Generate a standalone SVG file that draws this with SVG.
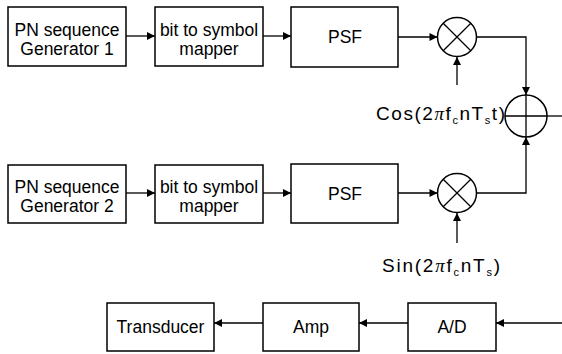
<svg xmlns="http://www.w3.org/2000/svg" width="562" height="354" viewBox="0 0 562 354">
<defs>
<marker id="ah" viewBox="0 0 10 10" refX="10" refY="5" markerWidth="10" markerHeight="8" markerUnits="userSpaceOnUse" orient="auto">
<path d="M0,0 L10,5 L0,10 z" fill="#000"/>
</marker>
</defs>
<style>
.box{fill:#fff;stroke:#000;stroke-width:1.5}
.circ{fill:#fff;stroke:#000;stroke-width:1.5}
.t{font-family:"Liberation Sans",Arial,sans-serif;font-size:17.5px;fill:#000;text-anchor:middle}
.lbl{font-family:"Liberation Sans",Arial,sans-serif;font-size:19px;fill:#000}
.sub{font-size:11px}
.c{fill:none;stroke:#000;stroke-width:1.3}
.a{fill:none;stroke:#000;stroke-width:1.3;marker-end:url(#ah)}
</style>
<rect width="562" height="354" fill="#fff"/>
<g id="connectors">
<line class="a" x1="126" y1="36" x2="155" y2="36"/>
<line class="a" x1="263" y1="36" x2="291" y2="36"/>
<line class="a" x1="398" y1="37" x2="437.5" y2="37"/>
<polyline class="a" points="476.5,37 526,37 526,95"/>
<line class="a" x1="457" y1="85" x2="457" y2="57"/>
<line class="a" x1="126" y1="193" x2="155" y2="193"/>
<line class="a" x1="263" y1="193" x2="291" y2="193"/>
<line class="a" x1="398" y1="193" x2="437.5" y2="193"/>
<polyline class="a" points="476.5,193 526,193 526,137"/>
<line class="a" x1="457" y1="243" x2="457" y2="213"/>
<line class="c" x1="547" y1="116" x2="562" y2="116"/>
<line class="a" x1="562" y1="323" x2="496" y2="323"/>
<line class="a" x1="408" y1="323" x2="359" y2="323"/>
<line class="a" x1="263" y1="323" x2="214" y2="323"/>
</g>
<g id="pn1">
<rect class="box" x="8" y="7" width="118" height="59"/>
<text class="t" x="67" y="36">PN sequence</text>
<text class="t" x="67" y="55">Generator 1</text>
</g>
<g id="map1">
<rect class="box" x="155" y="7" width="108" height="59"/>
<text class="t" x="209" y="36">bit to symbol</text>
<text class="t" x="209" y="55">mapper</text>
</g>
<g id="psf1">
<rect class="box" x="291" y="7" width="107" height="60"/>
<text class="t" x="345" y="43">PSF</text>
</g>
<g id="mult1">
<circle class="circ" cx="457" cy="37" r="19.5"/>
<path class="c" d="M443.2,23.2 L470.8,50.8 M470.8,23.2 L443.2,50.8"/>
</g>
<g id="adder">
<circle class="circ" cx="526" cy="116" r="21"/>
<path class="c" d="M505,116 L547,116 M526,95 L526,137"/>
</g>
<g id="cos">
<text class="lbl" x="376" y="120" textLength="129" lengthAdjust="spacing">Cos(2<tspan font-family="'Liberation Serif',serif" font-style="italic">π</tspan>f<tspan class="sub" dy="4">c</tspan><tspan dy="-4">nT</tspan><tspan class="sub" dy="4">s</tspan><tspan dy="-4">t)</tspan></text>
</g>
<g id="pn2">
<rect class="box" x="8" y="165" width="118" height="58"/>
<text class="t" x="67" y="193">PN sequence</text>
<text class="t" x="67" y="212">Generator 2</text>
</g>
<g id="map2">
<rect class="box" x="155" y="165" width="108" height="58"/>
<text class="t" x="209" y="193">bit to symbol</text>
<text class="t" x="209" y="212">mapper</text>
</g>
<g id="psf2">
<rect class="box" x="291" y="164" width="107" height="59"/>
<text class="t" x="345" y="200">PSF</text>
</g>
<g id="mult2">
<circle class="circ" cx="457" cy="193" r="19.5"/>
<path class="c" d="M443.2,179.2 L470.8,206.8 M470.8,179.2 L443.2,206.8"/>
</g>
<g id="sin">
<text class="lbl" x="382" y="272" textLength="118" lengthAdjust="spacing">Sin(2<tspan font-family="'Liberation Serif',serif" font-style="italic">π</tspan>f<tspan class="sub" dy="4">c</tspan><tspan dy="-4">nT</tspan><tspan class="sub" dy="4">s</tspan><tspan dy="-4">)</tspan></text>
</g>
<g id="transducer">
<rect class="box" x="107" y="303" width="107" height="48"/>
<text class="t" x="160.5" y="333">Transducer</text>
</g>
<g id="amp">
<rect class="box" x="263" y="303" width="96" height="48"/>
<text class="t" x="311" y="333">Amp</text>
</g>
<g id="ad">
<rect class="box" x="408" y="303" width="88" height="48"/>
<text class="t" x="452" y="333">A/D</text>
</g>
</svg>
